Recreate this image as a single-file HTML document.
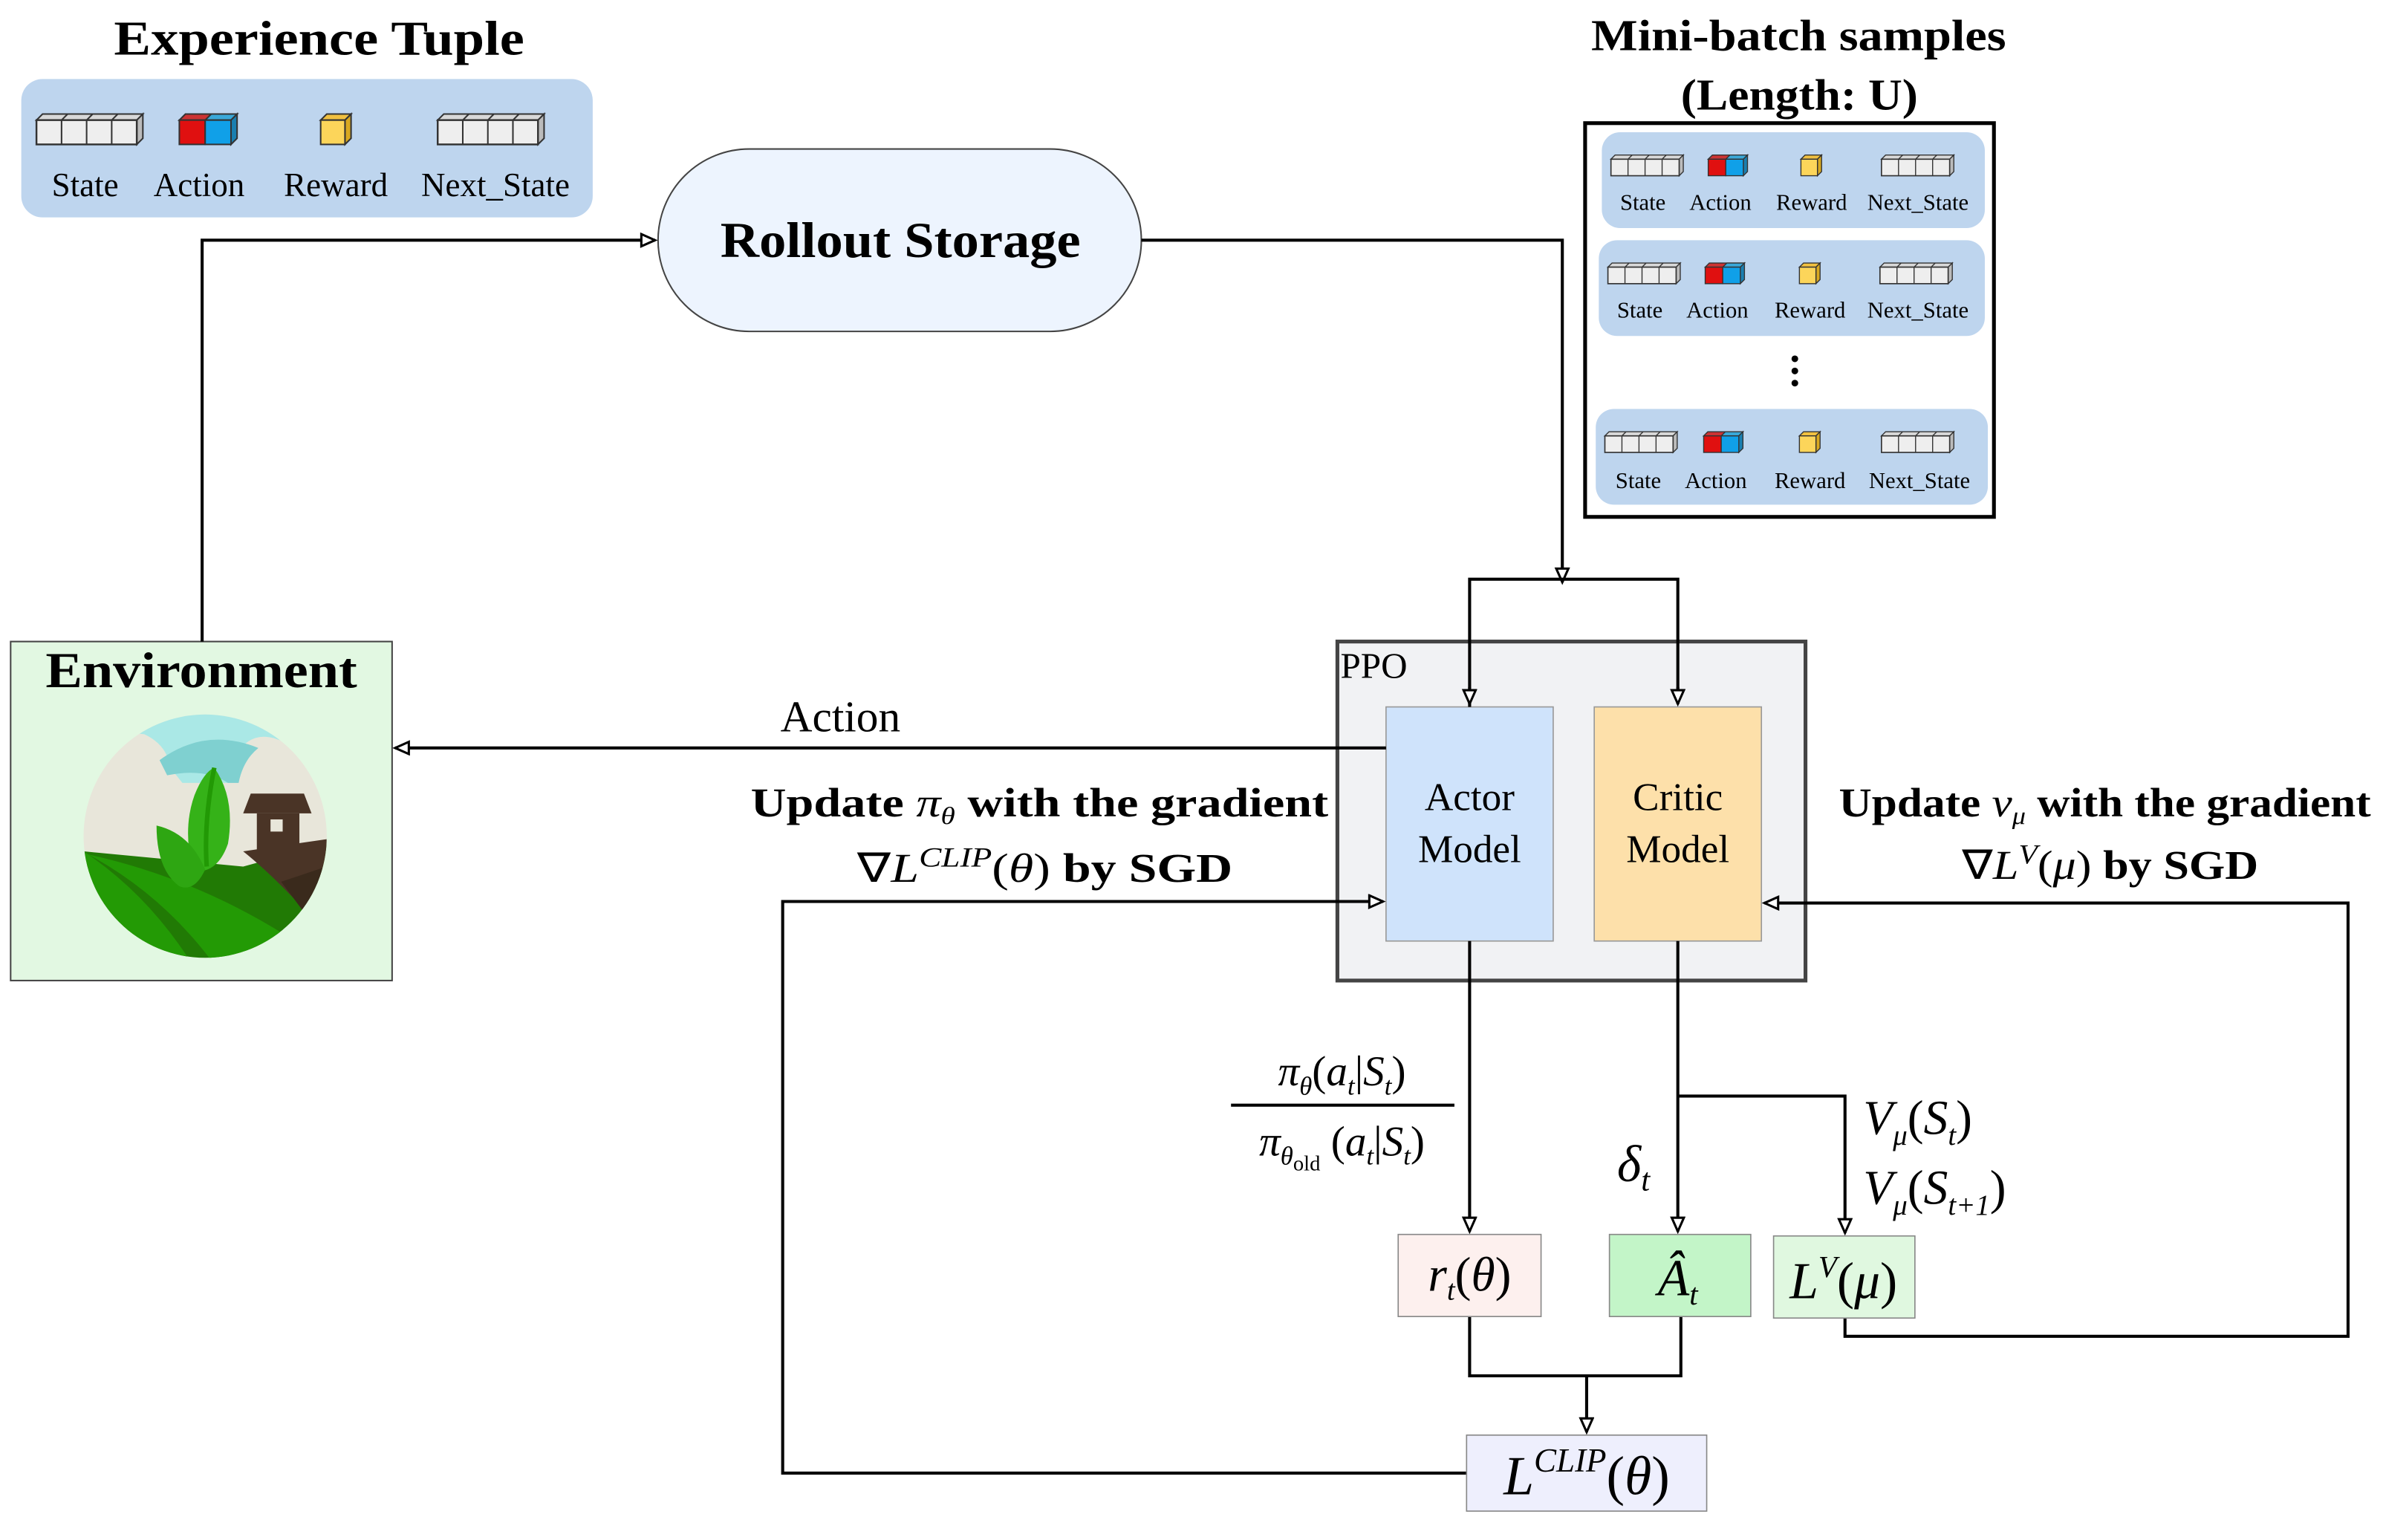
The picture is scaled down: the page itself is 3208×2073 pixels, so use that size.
<!DOCTYPE html>
<html><head><meta charset="utf-8"><style>
html,body{margin:0;padding:0;background:#fff;}
svg{display:block;}
text{font-family:"Liberation Serif",serif;}
.b{font-weight:bold;}
.m{font-style:italic;}
</style></head><body>
<svg width="3208" height="2073" viewBox="0 0 1568 1013" preserveAspectRatio="none" xmlns="http://www.w3.org/2000/svg">
<defs>
<marker id="ar" markerUnits="userSpaceOnUse" markerWidth="12" markerHeight="12" refX="10" refY="5" orient="auto">
<path d="M1,1 L10,5 L1,9 Z" fill="#fff" stroke="#000" stroke-width="1.5"/>
</marker>
<g id="st">
<path d="M0,4 L4,0 L70,0 L66,4 Z" fill="#d8d8d8" stroke="#333" stroke-width="1"/>
<path d="M66,4 L70,0 L70,16 L66,20 Z" fill="#bbb" stroke="#333" stroke-width="1"/>
<rect x="0" y="4" width="66" height="16" fill="#eee" stroke="#333" stroke-width="1.2"/>
<path d="M16.5,4V20M33,4V20M49.5,4V20M20.5,0L16.5,4M37,0L33,4M53.5,0L49.5,4" stroke="#333" stroke-width="1"/>
</g>
<g id="ac">
<path d="M0,4 L4,0 L38,0 L34,4 Z" fill="#c33" stroke="#333" stroke-width="1"/>
<path d="M17,4 L21,0 L38,0 L34,4 Z" fill="#3aa8d8" stroke="#333" stroke-width="1"/>
<path d="M34,4 L38,0 L38,16 L34,20 Z" fill="#1a7fb0" stroke="#333" stroke-width="1"/>
<rect x="0" y="4" width="17" height="16" fill="#e01010" stroke="#333" stroke-width="1"/>
<rect x="17" y="4" width="17" height="16" fill="#10a0e8" stroke="#333" stroke-width="1"/>
</g>
<g id="rw">
<path d="M0,4 L4,0 L20,0 L16,4 Z" fill="#f0c040" stroke="#333" stroke-width="1"/>
<path d="M16,4 L20,0 L20,16 L16,20 Z" fill="#d8a820" stroke="#333" stroke-width="1"/>
<rect x="0" y="4" width="16" height="16" fill="#fcd55a" stroke="#333" stroke-width="1"/>
</g>
<clipPath id="cc"><circle cx="135" cy="550" r="80"/></clipPath>
</defs>

<!-- Experience tuple -->
<text x="75" y="36" class="b" font-size="32" textLength="270" lengthAdjust="spacingAndGlyphs">Experience Tuple</text>
<rect x="14" y="52" width="376" height="91" rx="14" fill="#bed5ee"/>
<use href="#st" transform="translate(24,75)"/>
<use href="#ac" transform="translate(118,75)"/>
<use href="#rw" transform="translate(211,75)"/>
<use href="#st" transform="translate(288,75)"/>
<g font-size="22" text-anchor="middle">
<text x="56" y="129">State</text><text x="131" y="129">Action</text><text x="221" y="129">Reward</text><text x="326" y="129">Next_State</text>
</g>

<!-- Rollout storage -->
<rect x="433" y="98" width="318" height="120" rx="60" fill="#edf4fe" stroke="#444" stroke-width="1"/>
<text x="474" y="169" class="b" font-size="33" textLength="237" lengthAdjust="spacingAndGlyphs">Rollout Storage</text>

<!-- Mini-batch -->
<text x="1047" y="33" class="b" font-size="29" textLength="273" lengthAdjust="spacingAndGlyphs">Mini-batch samples</text>
<text x="1106" y="72" class="b" font-size="29" textLength="156" lengthAdjust="spacingAndGlyphs">(Length: U)</text>
<rect x="1043" y="81" width="269" height="259" fill="#fff" stroke="#000" stroke-width="2.5"/>
<g font-size="15" text-anchor="middle">
<rect x="1054" y="87" width="252" height="63" rx="12" fill="#bed5ee"/>
<use href="#st" transform="translate(1060,102) scale(0.68)"/>
<use href="#ac" transform="translate(1124,102) scale(0.68)"/>
<use href="#rw" transform="translate(1185,102) scale(0.68)"/>
<use href="#st" transform="translate(1238,102) scale(0.68)"/>
<text x="1081" y="138">State</text><text x="1132" y="138">Action</text><text x="1192" y="138">Reward</text><text x="1262" y="138">Next_State</text>
<rect x="1052" y="158" width="254" height="63" rx="12" fill="#bed5ee"/>
<use href="#st" transform="translate(1058,173) scale(0.68)"/>
<use href="#ac" transform="translate(1122,173) scale(0.68)"/>
<use href="#rw" transform="translate(1184,173) scale(0.68)"/>
<use href="#st" transform="translate(1237,173) scale(0.68)"/>
<text x="1079" y="209">State</text><text x="1130" y="209">Action</text><text x="1191" y="209">Reward</text><text x="1262" y="209">Next_State</text>
<rect x="1050" y="269" width="258" height="63" rx="12" fill="#bed5ee"/>
<use href="#st" transform="translate(1056,284) scale(0.68)"/>
<use href="#ac" transform="translate(1121,284) scale(0.68)"/>
<use href="#rw" transform="translate(1184,284) scale(0.68)"/>
<use href="#st" transform="translate(1238,284) scale(0.68)"/>
<text x="1078" y="321">State</text><text x="1129" y="321">Action</text><text x="1191" y="321">Reward</text><text x="1263" y="321">Next_State</text>
</g>
<circle cx="1181" cy="236" r="2.2"/><circle cx="1181" cy="244" r="2.2"/><circle cx="1181" cy="252" r="2.2"/>

<!-- Environment -->
<rect x="7" y="422" width="251" height="223" fill="#e2f8e2" stroke="#444" stroke-width="1"/>
<text x="30" y="452" class="b" font-size="33" textLength="205" lengthAdjust="spacingAndGlyphs">Environment</text>
<g clip-path="url(#cc)">
<rect x="50" y="465" width="170" height="170" fill="#e8e6da"/>
<path d="M50,465 L220,465 L220,478 L190,490 Q165,475 152,502 L150,515 L120,515 L112,505 Q110,490 95,483 L50,478 Z" fill="#aae8e6"/>
<path d="M105,500 Q135,478 170,492 Q160,500 157,515 L150,515 Q135,505 110,510 Z" fill="#7fd0d0"/>
<path d="M55,560 L160,570 L215,555 L215,640 L55,640 Z" fill="#217a05"/>
<path d="M55,560 Q100,590 130,640 L55,640 Z" fill="#239a05"/>
<path d="M58,562 Q140,580 210,630 L180,640 L145,640 Q110,590 58,562 Z" fill="#239a05"/>
<path d="M160,560 L215,552 L215,615 Q185,580 160,560 Z" fill="#4a3426"/>
<path d="M185,580 L215,570 L215,620 Z" fill="#3a2a1c"/>
<path d="M165,522 L200,522 L205,535 L160,535 Z" fill="#4a3426"/>
<rect x="169" y="535" width="28" height="25" fill="#4a3426"/>
<rect x="178" y="539" width="8" height="8" fill="#e8e6da"/>
<path d="M141,505 Q155,525 150,555 Q143,575 127,573 Q120,545 128,523 Q134,508 141,505 Z" fill="#35b218"/>
<path d="M141,505 Q134,540 136,570" stroke="#229905" stroke-width="3" fill="none"/>
<path d="M103,543 Q125,548 135,572 Q128,587 118,583 Q103,572 103,543 Z" fill="#2ea612"/>
</g>

<!-- PPO -->
<rect x="880" y="422" width="308" height="223" fill="#f1f2f4" stroke="#444" stroke-width="2.5"/>
<text x="882" y="446" font-size="24">PPO</text>
<rect x="912" y="465" width="110" height="154" fill="#cfe3fb" stroke="#999" stroke-width="0.8"/>
<rect x="1049" y="465" width="110" height="154" fill="#fde0aa" stroke="#999" stroke-width="0.8"/>
<g font-size="26" text-anchor="middle">
<text x="967" y="533">Actor</text><text x="967" y="567">Model</text>
<text x="1104" y="533">Critic</text><text x="1104" y="567">Model</text>
</g>

<!-- Connectors -->
<g fill="none" stroke="#000" stroke-width="2">
<path d="M133,422 V158 H431" marker-end="url(#ar)"/>
<path d="M751,158 H1028 V383" marker-end="url(#ar)"/>
<path d="M967,465 V381 H1104 V463" />
<path d="M967,452 V463" marker-end="url(#ar)"/>
<path d="M1104,452 V463" marker-end="url(#ar)"/>
<path d="M912,492 H260" marker-end="url(#ar)"/>
<path d="M965,969 H515 V593 H910" marker-end="url(#ar)"/>
<path d="M1214,866 V879 H1545 V594 H1161" marker-end="url(#ar)"/>
<path d="M967,619 V810" marker-end="url(#ar)"/>
<path d="M1104,619 V810" marker-end="url(#ar)"/>
<path d="M1104,721 H1214 V811" marker-end="url(#ar)"/>
<path d="M967,866 V905 H1106 V866"/>
<path d="M1044,905 V942" marker-end="url(#ar)"/>
</g>
<text x="553" y="481" text-anchor="middle" font-size="29">Action</text>

<!-- Update labels -->
<text x="494" y="537" font-size="27" textLength="380" lengthAdjust="spacingAndGlyphs"><tspan class="b">Update </tspan><tspan class="m">π</tspan><tspan class="m" font-size="16" dy="5">θ</tspan><tspan class="b" dy="-5"> with the gradient</tspan></text>
<text x="564" y="580" font-size="27" textLength="247" lengthAdjust="spacingAndGlyphs"><tspan>∇</tspan><tspan class="m">L</tspan><tspan class="m" font-size="18" dy="-10">CLIP</tspan><tspan dy="10">(</tspan><tspan class="m">θ</tspan><tspan>)</tspan><tspan class="b"> by SGD</tspan></text>
<text x="1210" y="537" font-size="27" textLength="350" lengthAdjust="spacingAndGlyphs"><tspan class="b">Update </tspan><tspan class="m">ν</tspan><tspan class="m" font-size="16" dy="5">μ</tspan><tspan class="b" dy="-5"> with the gradient</tspan></text>
<text x="1291" y="578" font-size="27" textLength="195" lengthAdjust="spacingAndGlyphs"><tspan>∇</tspan><tspan class="m">L</tspan><tspan class="m" font-size="18" dy="-10">V</tspan><tspan dy="10">(</tspan><tspan class="m">μ</tspan><tspan>)</tspan><tspan class="b"> by SGD</tspan></text>

<!-- Math labels -->
<text x="883" y="714" text-anchor="middle" font-size="28"><tspan class="m">π</tspan><tspan class="m" font-size="17" dy="6">θ</tspan><tspan dy="-6">(</tspan><tspan class="m">a</tspan><tspan class="m" font-size="17" dy="6">t</tspan><tspan dy="-6">|</tspan><tspan class="m">S</tspan><tspan class="m" font-size="17" dy="6">t</tspan><tspan dy="-6">)</tspan></text>
<line x1="810" y1="727" x2="957" y2="727" stroke="#000" stroke-width="2"/>
<text x="883" y="760" text-anchor="middle" font-size="28"><tspan class="m">π</tspan><tspan class="m" font-size="17" dy="6">θ</tspan><tspan font-size="14" dy="4">old</tspan><tspan dy="-10"> (</tspan><tspan class="m">a</tspan><tspan class="m" font-size="17" dy="6">t</tspan><tspan dy="-6">|</tspan><tspan class="m">S</tspan><tspan class="m" font-size="17" dy="6">t</tspan><tspan dy="-6">)</tspan></text>
<text x="1064" y="777" font-size="34"><tspan class="m">δ</tspan><tspan class="m" font-size="21" dy="6">t</tspan></text>
<text x="1226" y="746" font-size="32"><tspan class="m">V</tspan><tspan class="m" font-size="19" dy="7">μ</tspan><tspan dy="-7">(</tspan><tspan class="m">S</tspan><tspan class="m" font-size="19" dy="7">t</tspan><tspan dy="-7">)</tspan></text>
<text x="1226" y="792" font-size="32"><tspan class="m">V</tspan><tspan class="m" font-size="19" dy="7">μ</tspan><tspan dy="-7">(</tspan><tspan class="m">S</tspan><tspan class="m" font-size="19" dy="7">t+1</tspan><tspan dy="-7">)</tspan></text>

<!-- Bottom boxes -->
<rect x="920" y="812" width="94" height="54" fill="#fdf0ee" stroke="#888" stroke-width="0.8"/>
<text x="967" y="849" text-anchor="middle" font-size="32"><tspan class="m">r</tspan><tspan class="m" font-size="19" dy="6">t</tspan><tspan dy="-6">(</tspan><tspan class="m">θ</tspan><tspan>)</tspan></text>
<rect x="1059" y="812" width="93" height="54" fill="#c3f5c8" stroke="#888" stroke-width="0.8"/>
<text x="1104" y="852" text-anchor="middle" font-size="34"><tspan class="m">Â</tspan><tspan class="m" font-size="20" dy="6">t</tspan></text>
<rect x="1167" y="813" width="93" height="54" fill="#e0f8e0" stroke="#888" stroke-width="0.8"/>
<text x="1213" y="854" text-anchor="middle" font-size="34"><tspan class="m">L</tspan><tspan class="m" font-size="20" dy="-14">V</tspan><tspan dy="14">(</tspan><tspan class="m">μ</tspan><tspan>)</tspan></text>
<rect x="965" y="944" width="158" height="50" fill="#eeeffd" stroke="#888" stroke-width="0.8"/>
<text x="1044" y="983" text-anchor="middle" font-size="36"><tspan class="m">L</tspan><tspan class="m" font-size="22" dy="-15">CLIP</tspan><tspan dy="15">(</tspan><tspan class="m">θ</tspan><tspan>)</tspan></text>
</svg>
</body></html>
